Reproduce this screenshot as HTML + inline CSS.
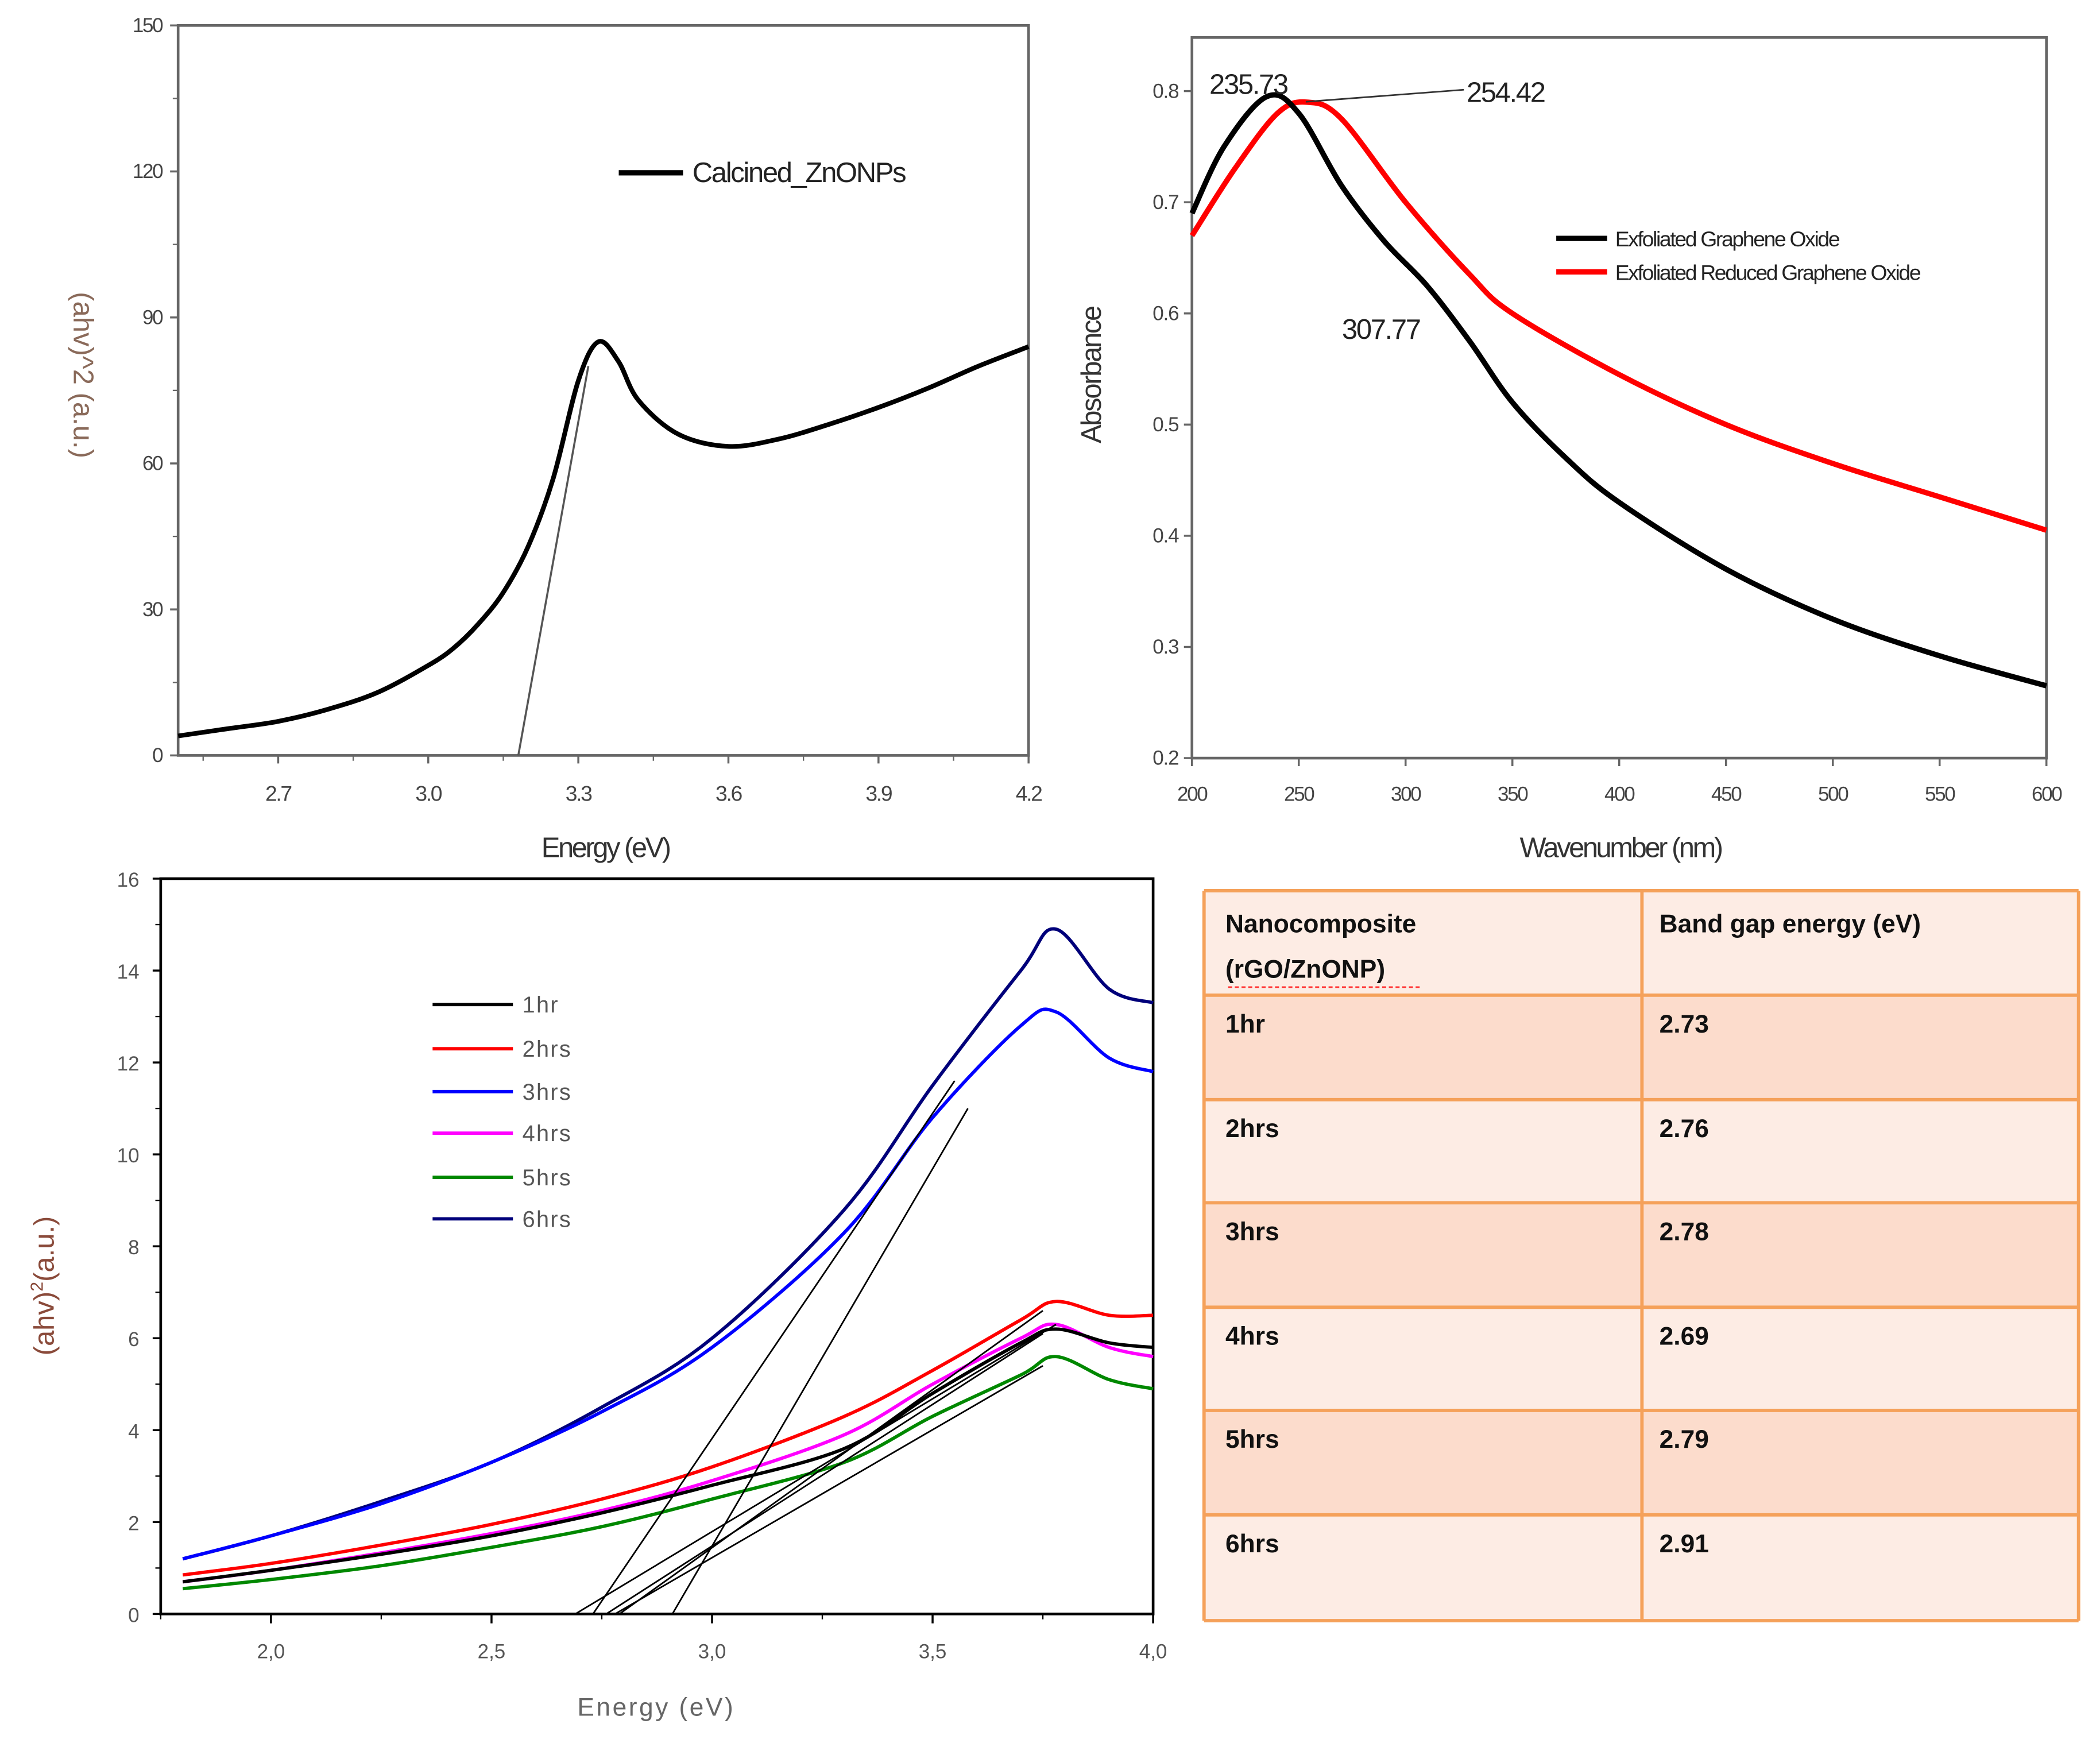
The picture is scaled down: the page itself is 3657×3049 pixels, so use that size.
<!DOCTYPE html>
<html><head><meta charset="utf-8"><style>
html,body{margin:0;padding:0;background:#fff;}
svg{display:block;}
text{font-family:"Liberation Sans",sans-serif;}
</style></head><body>
<svg id="fig" width="3657" height="3049" viewBox="0 0 1568 1307.3" preserveAspectRatio="none" xmlns="http://www.w3.org/2000/svg">
<rect x="0" y="0" width="1568" height="1308" fill="#fff"/>
<g id="p1"></g>
<g id="p2"></g>
<g id="p3"></g>
<g id="tbl"></g>
</svg>
<script>
// ---- Chart 1 data ----
const c1Energy = [2.5,2.6,2.7,2.8,2.9,3.0,3.05,3.1,3.15,3.2,3.25,3.3,3.34,3.38,3.42,3.5,3.6,3.7,3.8,3.9,4.0,4.1,4.2];
const c1Value  = [4,5.5,7,9.5,13,18.5,22,27,33.5,43,57,77,85,81,73,66,63.5,65,68,71.5,75.5,80,84];
const c1Tangent = [[3.18,0],[3.32,80]];
const c1XTicks = [2.7,3.0,3.3,3.6,3.9,4.2];
const c1YTicks = [0,30,60,90,120,150];
// ---- Chart 2 data ----
const c2WaveBlack = [200,215,235,250,270,290,310,330,350,375,400,450,500,550,600];
const c2AbsBlack  = [0.69,0.75,0.795,0.78,0.715,0.665,0.625,0.575,0.52,0.47,0.43,0.37,0.325,0.292,0.265];
const c2WaveRed = [200,220,240,254,270,300,330,350,400,450,500,550,600];
const c2AbsRed  = [0.67,0.73,0.78,0.79,0.775,0.70,0.635,0.60,0.545,0.50,0.465,0.435,0.405];
const c2XTicks = [200,250,300,350,400,450,500,550,600];
const c2YTicks = [0.2,0.3,0.4,0.5,0.6,0.7,0.8];
// ---- Chart 3 data ----
const c3Energy = [1.8,2.0,2.25,2.5,2.75,3.0,3.3,3.5,3.7,3.78,3.9,4.0];
const c3Labels = ["1hr","2hrs","3hrs","4hrs","5hrs","6hrs"];
const c3Colors = ["#000","#f00","#00f","#f0f","#080","#00007a"];
const c3S1 = [0.7,0.95,1.3,1.7,2.2,2.8,3.6,4.8,5.9,6.2,5.9,5.8];
const c3S2 = [0.85,1.1,1.5,1.95,2.5,3.2,4.3,5.3,6.4,6.8,6.5,6.5];
const c3S3 = [1.2,1.7,2.4,3.3,4.4,5.8,8.3,10.8,12.8,13.1,12.1,11.8];
const c3S4 = [0.7,0.95,1.33,1.75,2.25,2.9,3.9,5.0,6.0,6.3,5.8,5.6];
const c3S5 = [0.55,0.75,1.05,1.45,1.9,2.5,3.3,4.3,5.2,5.6,5.1,4.9];
const c3S6 = [1.2,1.7,2.45,3.3,4.5,6.0,8.8,11.5,14.0,14.9,13.6,13.3];
const c3Tangents = [[2.69,0,3.78,6.3],[2.73,0,3.55,11.6],[2.76,0,3.75,6.1],[2.78,0,3.75,5.4],[2.79,0,3.75,6.6],[2.91,0,3.58,11.0]];
const c3XTicks = [2.0,2.5,3.0,3.5,4.0];
const c3YTicks = [0,2,4,6,8,10,12,14,16];
// ---- Table data ----
const tRows = ["1hr","2hrs","3hrs","4hrs","5hrs","6hrs"];
const tGaps = ["2.73","2.76","2.78","2.69","2.79","2.91"];

const NS="http://www.w3.org/2000/svg";
function mk(parent,tag,attrs,txt){const e=document.createElementNS(NS,tag);for(const k in attrs)e.setAttribute(k,attrs[k]);if(txt!==undefined)e.textContent=txt;parent.appendChild(e);return e;}
function smooth(pts){let d="M"+pts[0][0]+","+pts[0][1];for(let i=0;i<pts.length-1;i++){const p0=pts[Math.max(i-1,0)],p1=pts[i],p2=pts[i+1],p3=pts[Math.min(i+2,pts.length-1)];const c1=[p1[0]+(p2[0]-p0[0])/6,p1[1]+(p2[1]-p0[1])/6],c2=[p2[0]-(p3[0]-p1[0])/6,p2[1]-(p3[1]-p1[1])/6];d+=" C"+c1[0]+","+c1[1]+" "+c2[0]+","+c2[1]+" "+p2[0]+","+p2[1];}return d;}

// ===== Chart 1 =====
(function(){
const g=document.getElementById('p1');
const L=133,R=768,T=19,B=564;
const sx=v=>L+(v-2.5)/(4.2-2.5)*(R-L), sy=v=>B-(v/150)*(B-T);
let e=mk(g,'rect',{x:L,y:T,width:R-L,height:B-T,fill:'none',stroke:'#666','stroke-width':2});

c1XTicks.forEach(t=>{mk(g,'line',{x1:sx(t),x2:sx(t),y1:B,y2:B+6,stroke:'#666','stroke-width':1.5});
 const tx=mk(g,'text',{x:sx(t),y:B+34,'font-size':16,'text-anchor':'middle',fill:'#444','letter-spacing':'-1'},t.toFixed(1));
 });
[2.55,2.85,3.15,3.45,3.75,4.05].forEach(t=>mk(g,'line',{x1:sx(t),x2:sx(t),y1:B,y2:B+4,stroke:'#666'}));
c1YTicks.forEach(t=>{mk(g,'line',{x1:L-6,x2:L,y1:sy(t),y2:sy(t),stroke:'#666','stroke-width':1.5});
 const tx=mk(g,'text',{x:L-12,y:sy(t)+5,'font-size':15,'text-anchor':'end',fill:'#444','letter-spacing':'-1'},t);
 });
[15,45,75,105,135].forEach(t=>mk(g,'line',{x1:L-4,x2:L,y1:sy(t),y2:sy(t),stroke:'#666'}));
e=mk(g,'text',{x:452,y:640,'font-size':21,'text-anchor':'middle',fill:'#333','letter-spacing':'-1.5'},'Energy (eV)');

e=mk(g,'text',{x:0,y:0,transform:'translate(55,280) rotate(90)','font-size':21,'text-anchor':'middle',fill:'#8a6a5a'},'(ahv)^2 (a.u.)');

e=mk(g,'line',{x1:sx(c1Tangent[0][0]),y1:sy(c1Tangent[0][1]),x2:sx(c1Tangent[1][0]),y2:sy(c1Tangent[1][1]),stroke:'#555','stroke-width':1.5});

e=mk(g,'path',{d:smooth(c1Energy.map((v,i)=>[sx(v),sy(c1Value[i])])),fill:'none',stroke:'#000','stroke-width':3.5});

mk(g,'line',{x1:462,x2:510,y1:129,y2:129,stroke:'#000','stroke-width':4});
e=mk(g,'text',{x:517,y:136,'font-size':21,fill:'#222','letter-spacing':'-1'},'Calcined_ZnONPs');

})();

// ===== Chart 2 =====
(function(){
const g=document.getElementById('p2');
const L=890,R=1528,T=28,B=566;
const sx=v=>L+(v-200)/400*(R-L), sy=v=>B-(v-0.2)/0.1*83;
let e=mk(g,'rect',{x:L,y:T,width:R-L,height:B-T,fill:'none',stroke:'#666','stroke-width':2});

c2XTicks.forEach(t=>{mk(g,'line',{x1:sx(t),x2:sx(t),y1:B,y2:B+6,stroke:'#666','stroke-width':1.5});
 const tx=mk(g,'text',{x:sx(t),y:B+32,'font-size':15,'text-anchor':'middle',fill:'#444','letter-spacing':'-1'},t);
 });
c2YTicks.forEach(t=>{mk(g,'line',{x1:L-6,x2:L,y1:sy(t),y2:sy(t),stroke:'#666','stroke-width':1.5});
 const tx=mk(g,'text',{x:L-10,y:sy(t)+5,'font-size':15,'text-anchor':'end',fill:'#444','letter-spacing':'-0.5'},t.toFixed(1));
 });
e=mk(g,'text',{x:1210,y:640,'font-size':21,'text-anchor':'middle',fill:'#333','letter-spacing':'-1.5'},'Wavenumber (nm)');

e=mk(g,'text',{x:0,y:0,transform:'translate(822,280) rotate(-90)','font-size':21,'text-anchor':'middle',fill:'#333','letter-spacing':'-1'},'Absorbance');

e=mk(g,'path',{d:smooth(c2WaveRed.map((v,i)=>[sx(v),sy(c2AbsRed[i])])),fill:'none',stroke:'#f00','stroke-width':4});

e=mk(g,'path',{d:smooth(c2WaveBlack.map((v,i)=>[sx(v),sy(c2AbsBlack[i])])),fill:'none',stroke:'#000','stroke-width':4});

mk(g,'line',{x1:975,y1:76,x2:1093,y2:67,stroke:'#333','stroke-width':1.2});
e=mk(g,'text',{x:903,y:70,'font-size':21,fill:'#222','letter-spacing':'-1'},'235.73');
e=mk(g,'text',{x:1095,y:76,'font-size':21,fill:'#222','letter-spacing':'-1'},'254.42');
e=mk(g,'text',{x:1002,y:253,'font-size':21,fill:'#222','letter-spacing':'-1'},'307.77');
mk(g,'line',{x1:1162,x2:1200,y1:178,y2:178,stroke:'#000','stroke-width':4});
mk(g,'line',{x1:1162,x2:1200,y1:203,y2:203,stroke:'#f00','stroke-width':4});
e=mk(g,'text',{x:1206,y:184,'font-size':16,fill:'#222','letter-spacing':'-1'},'Exfoliated Graphene Oxide');
e=mk(g,'text',{x:1206,y:209,'font-size':16,fill:'#222','letter-spacing':'-1'},'Exfoliated Reduced Graphene Oxide');
})();

// ===== Chart 3 =====
(function(){
const g=document.getElementById('p3');
const L=120,R=861,T=656,B=1205;
const sx=v=>L+(v-1.75)/2.25*(R-L), sy=v=>B-v/16*(B-T);
let e=mk(g,'rect',{x:L,y:T,width:R-L,height:B-T,fill:'none',stroke:'#000','stroke-width':2});

c3XTicks.forEach(t=>{mk(g,'line',{x1:sx(t),x2:sx(t),y1:B,y2:B+7,stroke:'#000','stroke-width':1.5});
 const tx=mk(g,'text',{x:sx(t),y:B+33,'font-size':15,'text-anchor':'middle',fill:'#555'},t.toFixed(1).replace('.',','));
 });
[1.75,2.25,2.75,3.25,3.75].forEach(t=>mk(g,'line',{x1:sx(t),x2:sx(t),y1:B,y2:B+4,stroke:'#000'}));
c3YTicks.forEach(t=>{mk(g,'line',{x1:L-6,x2:L,y1:sy(t),y2:sy(t),stroke:'#000','stroke-width':1.5});
 const tx=mk(g,'text',{x:L-16,y:sy(t)+6,'font-size':15,'text-anchor':'end',fill:'#555'},t);
 });
[1,3,5,7,9,11,13,15].forEach(t=>mk(g,'line',{x1:L-4,x2:L,y1:sy(t),y2:sy(t),stroke:'#000'}));
e=mk(g,'text',{x:490,y:1281,'font-size':19,'text-anchor':'middle',fill:'#666','letter-spacing':'1.5'},'Energy (eV)');

e=mk(g,'text',{x:0,y:0,transform:'translate(40,960) rotate(-90)','font-size':21,'text-anchor':'middle',fill:'#8a4a3a'});
e.innerHTML='(ahv)<tspan font-size="13" dy="-8">2</tspan><tspan dy="8">(a.u.)</tspan>';

const series=[c3S1,c3S2,c3S3,c3S4,c3S5,c3S6];
const order=[5,2,1,3,0,4];
order.forEach(i=>{const p=mk(g,'path',{d:smooth(c3Energy.map((v,k)=>[sx(v),sy(series[i][k])])),fill:'none',stroke:c3Colors[i],'stroke-width':2.5});
 });
c3Tangents.forEach(t=>{const l=mk(g,'line',{x1:sx(t[0]),y1:sy(t[1]),x2:sx(t[2]),y2:sy(t[3]),stroke:'#000','stroke-width':1.2});
 });
const ly=[750,783,815,846,879,910];
c3Labels.forEach((lab,i)=>{mk(g,'line',{x1:323,x2:383,y1:ly[i],y2:ly[i],stroke:c3Colors[i],'stroke-width':2.5});
 const tx=mk(g,'text',{x:390,y:ly[i]+6,'font-size':17,fill:'#555','letter-spacing':'1'},lab);
 });
})();

// ===== Table =====
(function(){
const g=document.getElementById('tbl');
const L=899,R=1552,M=1226;
const ys=[665,743,821,898,976,1053,1131,1210];
for(let r=0;r<7;r++){
 const fill=(r%2===1)?'#fcdccc':'#fdece4';
 const rc=mk(g,'rect',{x:L,y:ys[r],width:R-L,height:ys[r+1]-ys[r],fill:fill});
 
}
for(let r=0;r<8;r++)mk(g,'line',{x1:L,x2:R,y1:ys[r],y2:ys[r],stroke:'#f5a15a','stroke-width':2.5});
[L,M,R].forEach(x=>mk(g,'line',{x1:x,x2:x,y1:ys[0],y2:ys[7],stroke:'#f5a15a','stroke-width':2.5}));
const st={'font-size':19,'font-weight':'bold',fill:'#111'};
let e=mk(g,'text',Object.assign({x:915,y:696},st),'Nanocomposite');
e=mk(g,'text',Object.assign({x:915,y:730},st),'(rGO/ZnONP)');
mk(g,'line',{x1:917,x2:1062,y1:737,y2:737,stroke:'#f33','stroke-width':1.2,'stroke-dasharray':'3,2'});
e=mk(g,'text',Object.assign({x:1239,y:696},st),'Band gap energy (eV)');
tRows.forEach((lab,i)=>{
 let a=mk(g,'text',Object.assign({x:915,y:ys[i+1]+28},st),lab);
 let b=mk(g,'text',Object.assign({x:1239,y:ys[i+1]+28},st),tGaps[i]);
});
})();
</script>
</body></html>
